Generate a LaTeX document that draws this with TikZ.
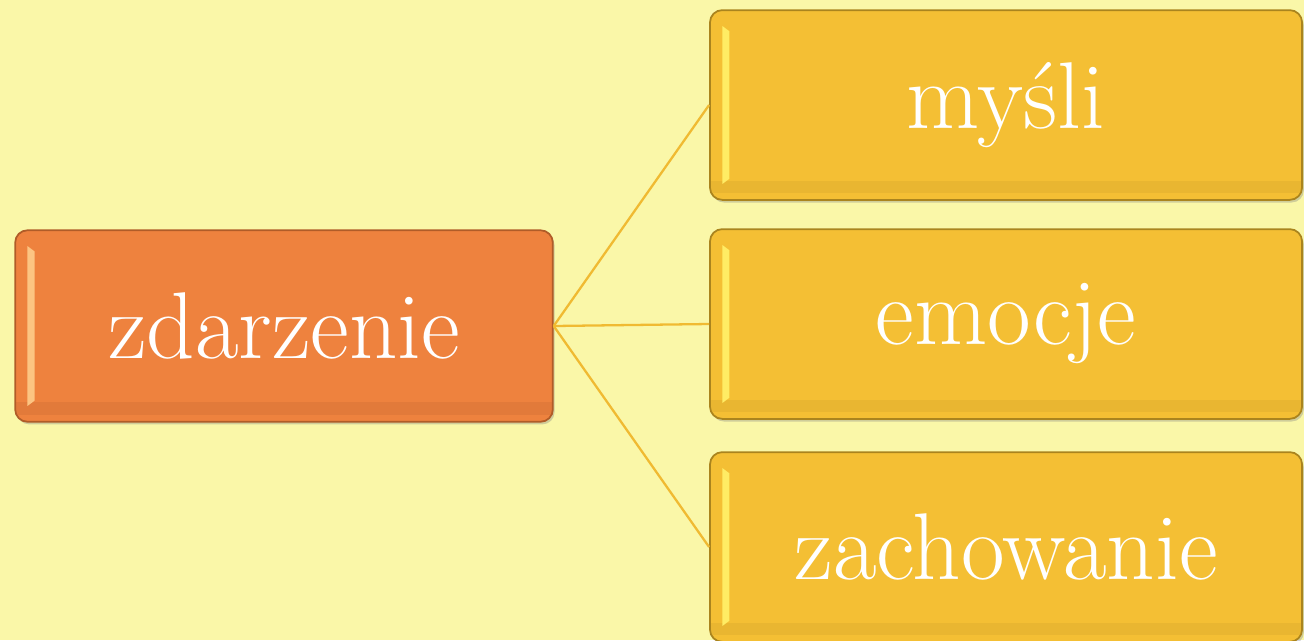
\documentclass[tikz,border=0pt]{standalone}
\usepackage{fontspec}
\usetikzlibrary{shadows}

\definecolor{bgyellow}{RGB}{250,247,168}
\definecolor{eventorange}{RGB}{238,130,62}
\definecolor{eventedge}{RGB}{176,92,40}
\definecolor{eventlight}{RGB}{252,196,130}
\definecolor{effectgold}{RGB}{244,191,52}
\definecolor{effectedge}{RGB}{170,132,30}
\definecolor{effectlight}{RGB}{255,236,100}
\definecolor{linkgold}{RGB}{240,186,50}

\begin{document}
\begin{tikzpicture}[x=0.02cm, y=-0.02cm,
    gloss/.style={rounded corners=7pt, line width=1pt, text=white,
        font=\fontsize{54}{60}\selectfont,
        drop shadow={shadow xshift=1pt, shadow yshift=-1.5pt, opacity=.35}},
    eventbox/.style={gloss, draw=eventedge, fill=eventorange,
        minimum width=306pt, minimum height=109pt,
        path picture={
            \fill[eventedge!20!eventorange, sharp corners] ([yshift=4pt]path picture bounding box.south west)
                rectangle ([yshift=11pt]path picture bounding box.south east);
            \fill[eventlight, sharp corners] ([xshift=7pt,yshift=-9pt]path picture bounding box.north west)
                -- ([xshift=11pt,yshift=-12pt]path picture bounding box.north west)
                -- ([xshift=11pt,yshift=12pt]path picture bounding box.south west)
                -- ([xshift=7pt,yshift=9pt]path picture bounding box.south west) -- cycle;
        }},
    effectbox/.style={gloss, draw=effectedge, fill=effectgold,
        minimum width=337pt, minimum height=108pt,
        path picture={
            \fill[effectedge!15!effectgold, sharp corners] ([yshift=4pt]path picture bounding box.south west)
                rectangle ([yshift=11pt]path picture bounding box.south east);
            \fill[effectlight, sharp corners] ([xshift=7pt,yshift=-9pt]path picture bounding box.north west)
                -- ([xshift=11pt,yshift=-12pt]path picture bounding box.north west)
                -- ([xshift=11pt,yshift=12pt]path picture bounding box.south west)
                -- ([xshift=7pt,yshift=9pt]path picture bounding box.south west) -- cycle;
        }},
    link/.style={draw=linkgold, line width=1.3pt}]

    \useasboundingbox (0, 0) rectangle (1304, 640);
    \clip (0, 0) rectangle (1304, 640);
    \fill[bgyellow] (0, 0) rectangle (1304, 640);

    \node[eventbox] (event) at (284, 326) {zdarzenie};

    \node[effectbox] (thoughts) at (1006, 105) {myśli};
    \node[effectbox] (emotions) at (1006, 324) {emocje};
    \node[effectbox] (behaviour) at (1006, 547) {zachowanie};

    \draw[link] (event.east) -- (thoughts.west);
    \draw[link] (event.east) -- (emotions.west);
    \draw[link] (event.east) -- (behaviour.west);
\end{tikzpicture}
\end{document}
